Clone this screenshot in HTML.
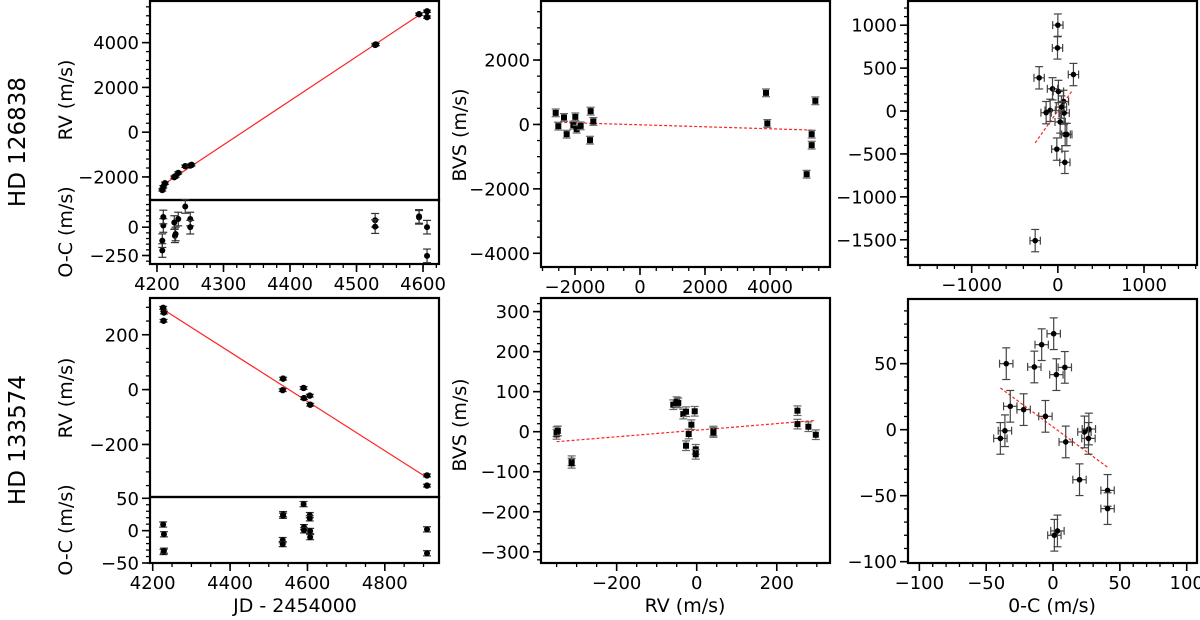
<!DOCTYPE html>
<html><head><meta charset="utf-8"><style>
html,body{margin:0;padding:0;background:#fff;}
svg{display:block;font-family:"DejaVu Sans","Liberation Sans",sans-serif;}
</style></head><body>
<svg id="fig" width="1200" height="620" viewBox="0 0 1200 620" xmlns="http://www.w3.org/2000/svg">
<text x="0" y="0" font-size="23" text-anchor="middle" transform="translate(25,142) rotate(-90)">HD 126838</text>
<text x="0" y="0" font-size="23" text-anchor="middle" transform="translate(25,440) rotate(-90)">HD 133574</text>
</svg>
<script>
// ---- HD 126838 RV vs JD ----
const jdA = [4208,4209.5,4212,4226,4228,4232,4242.5,4250,4252,4528,4529,4594,4606,4606];
const rvA = [-2580,-2440,-2280,-2010,-1960,-1820,-1520,-1490,-1460,3900,3920,5270,5400,5140];
const fitA_jd = [4212,4605.5];
const fitA_rv = [-2300,5450];
const resJdA = [4208,4208,4209.5,4209.5,4226,4227,4228,4232,4242.5,4250,4250,4528,4528,4594,4594,4606,4606];
const resA = [-206,-119,15,90,41,-76,-60,72,183,72,0,61,5,87,95,0,-253];
// ---- HD 133574 RV vs JD ----
const jdB = [4227,4229,4228,4537,4536,4590,4591,4606,4607,4909,4909];
const rvB = [298,281,251,40,-2,6,-31,-22,-55,-313,-350];
const fitB_jd = [4234,4909];
const fitB_rv = [286,-321];
const resJdB = [4227,4229,4228,4229,4537,4537,4536,4536,4590,4591,4591,4606,4606,4607,4607,4909,4909];
const resB = [9.5,-5.6,-33,-31,25.5,23,-14.6,-20.8,41,5.4,0.5,24,19,-0.5,-10,2,-35];
// ---- BVS vs RV ----
const bvsRvA = [-2594,-2513,-2338,-2256,-2051,-1990,-1949,-1826,-1518,-1538,-1436,3877,3918,5128,5282,5282,5395];
const bvsA = [360,-53,218,-302,-22,236,-146,-44,413,-488,93,982,31,-1545,-302,-643,734];
const bvsFitA_x = [-2640,5370];
const bvsFitA_y = [71,-177];
const bvsRvB = [-350,-350,-347,-312.5,-312.5,-58.5,-50,-46,-33.5,-26.7,-26.7,-20,-13.3,-5,-2.5,-2.5,41.7,41.7,251.7,251.7,279,297.5];
const bvsB = [0,-6.7,2,-72.5,-79,67.5,75,72,44,50,-35,-5.8,17.5,51,-44,-56.5,1.7,-2,52.5,19,12.5,-7.5];
const bvsFitB_x = [-350,295];
const bvsFitB_y = [-25,28];
// ---- BVS vs O-C ----
const ocA = [0,-4,-217,181,-62,7,65,-89,-136,73,42,27,85,104,-12,81,-263];
const ocBvsA = [1001,735,387,425,259,228,112,8,-19,-23,46,-127,-273,-273,-444,-598,-1510];
const ocFitA_x = [-263,174];
const ocFitA_y = [-371,248];
const ocB = [0.5,-8.5,-35,-14,2.5,8.8,-32,-22,-5.7,-36,-39.4,9.5,23.5,26.8,26.5,19.8,40.8,40.8,1,3.3];
const ocBvsB = [72.7,64.4,50,47.5,41.7,47.2,17.7,15.2,10.1,-0.8,-6.6,-9.3,-1.7,0.5,-6.6,-37.9,-46,-59.8,-80,-76.7];
const ocFitB_x = [-39.4,41.5];
const ocFitB_y = [31.6,-29];

const svg = document.getElementById('fig');
const NS = 'http://www.w3.org/2000/svg';
function mk(tag, attrs, parent){const e=document.createElementNS(NS,tag);for(const k in attrs)e.setAttribute(k,attrs[k]);(parent||svg).appendChild(e);return e;}
function scale(d0,d1,p0,p1){return v=>p0+(v-d0)/(d1-d0)*(p1-p0);}
function rng(a,b,s){const r=[];for(let v=a;v<=b+1e-9;v+=s)r.push(Math.round(v*1000)/1000);return r;}
function fmt(v){return v<0?'\u2212'+Math.abs(v):String(v);}

function axes(name,px0,px1,py0,py1,xd,yd,opt){
  const g=mk('g',{});
  
  
  const sx=scale(xd[0],xd[1],px0,px1), sy=scale(yd[0],yd[1],py1,py0);
  if(opt.yMaj){
    opt.yMinor.forEach(v=>{const y=sy(v);if(y<py0-0.5||y>py1+0.5)return;mk('line',{x1:px0-4,x2:px0,y1:y,y2:y,stroke:'#000','stroke-width':1.3},g);});
    opt.yMaj.forEach(v=>{const y=sy(v);mk('line',{x1:px0-8,x2:px0,y1:y,y2:y,stroke:'#000','stroke-width':1.6},g);
      if(!(opt.yNoLab||[]).includes(v)){const t=mk('text',{x:px0-11,y:y+6.5,'font-size':18,'text-anchor':'end'},g);t.textContent=fmt(v);}});
  }
  if(opt.xMaj){
    opt.xMinor.forEach(v=>{const x=sx(v);if(x<px0-0.5||x>px1+0.5)return;mk('line',{x1:x,x2:x,y1:py1,y2:py1+4,stroke:'#000','stroke-width':1.3},g);});
    opt.xMaj.forEach(v=>{const x=sx(v);mk('line',{x1:x,x2:x,y1:py1,y2:py1+8,stroke:'#000','stroke-width':1.6},g);
      const t=mk('text',{x:x,y:py1+26,'font-size':18,'text-anchor':'middle'},g);t.textContent=fmt(v);});
  }
  mk('rect',{x:px0,y:py0,width:px1-px0,height:py1-py0,fill:'none',stroke:'#000','stroke-width':2.2},g);
  return {sx,sy,g};
}
function fitLine(ax,xs,ys,dashed,name){
  const l=mk('line',{x1:ax.sx(xs[0]),y1:ax.sy(ys[0]),x2:ax.sx(xs[1]),y2:ax.sy(ys[1]),stroke:'#f22','stroke-width':1.2},ax.g);
  if(dashed)l.setAttribute('stroke-dasharray','3,2');
  
  
}
function pts(ax,xs,ys,o,name){
  xs.forEach((xv,i)=>{
    const x=ax.sx(xv),y=ax.sy(ys[i]);
    const g=mk('g',{},ax.g);
    
    
    const c=o.ecol||'#333';
    if(o.ye){const y1=ax.sy(ys[i]-o.ye),y2=ax.sy(ys[i]+o.ye);
      mk('line',{x1:x,x2:x,y1:y1,y2:y2,stroke:c,'stroke-width':1.2},g);
      mk('line',{x1:x-4,x2:x+4,y1:y1,y2:y1,stroke:c,'stroke-width':1.2},g);
      mk('line',{x1:x-4,x2:x+4,y1:y2,y2:y2,stroke:c,'stroke-width':1.2},g);}
    if(o.xe){const x1=ax.sx(xv-o.xe),x2=ax.sx(xv+o.xe);
      mk('line',{x1:x1,x2:x2,y1:y,y2:y,stroke:c,'stroke-width':1.2},g);
      mk('line',{x1:x1,x2:x1,y1:y-4,y2:y+4,stroke:c,'stroke-width':1.2},g);
      mk('line',{x1:x2,x2:x2,y1:y-4,y2:y+4,stroke:c,'stroke-width':1.2},g);}
    if(o.sq)mk('rect',{x:x-3,y:y-3,width:6,height:6,fill:'#000'},g);
    else mk('circle',{cx:x,cy:y,r:o.r||3,fill:'#000'},g);
  });
}
function label(txt,x,y,rot,name){
  const t=mk('text',{x:0,y:0,'font-size':19,'text-anchor':'middle',transform:`translate(${x},${y})`+(rot?' rotate(-90)':'')});
  t.textContent=txt;
  
  
}

// Column 1 top
const a1=axes('rv-panel-hd126838',150,439,1,200,[4189.5,4624],[-3030,5860],{yMaj:[-2000,0,2000,4000],yMinor:rng(-2800,5600,400)});
fitLine(a1,fitA_jd,fitA_rv,false,'rv-fit-line-hd126838');
pts(a1,jdA,rvA,{ye:50,r:3.2},'rv-point');
const a1r=axes('residual-panel-hd126838',150,439,200,264,[4189.5,4624],[-325,240],{yMaj:[-250,0],yMinor:rng(-300,200,50),xMaj:[4200,4300,4400,4500,4600],xMinor:rng(4200,4620,20)});
pts(a1r,resJdA,resA,{ye:60,r:3},'residual-point');
label('RV (m/s)',72,100,true,'y-axis-title-rv');
label('O-C (m/s)',72,232,true,'y-axis-title-oc');

// Column 1 bottom
const b1=axes('rv-panel-hd133574',150,439,298,497,[4193,4940],[-391.6,334],{yMaj:[-200,0,200],yMinor:rng(-350,300,50)});
fitLine(b1,fitB_jd,fitB_rv,false,'rv-fit-line-hd133574');
pts(b1,jdB,rvB,{ye:5,r:3.2},'rv-point');
const b1r=axes('residual-panel-hd133574',150,439,497,563,[4193,4940],[-50,52],{yMaj:[-50,0,50],yMinor:rng(-50,50,10),xMaj:[4200,4400,4600,4800],xMinor:rng(4200,4900,50)});
pts(b1r,resJdB,resB,{ye:4,r:3},'residual-point');
label('RV (m/s)',72,398,true,'y-axis-title-rv-2');
label('O-C (m/s)',72,530,true,'y-axis-title-oc-2');
label('JD - 2454000',295,612,false,'x-axis-title-jd');

// Column 2
const a2=axes('bvs-rv-panel-hd126838',541,830,1,267,[-3046,5846],[-4426,3833],{yMaj:[-4000,-2000,0,2000],yMinor:rng(-4000,3500,500),xMaj:[-2000,0,2000,4000],xMinor:rng(-3000,5500,500)});
fitLine(a2,bvsFitA_x,bvsFitA_y,true,'bvs-fit-line-hd126838');
pts(a2,bvsRvA,bvsA,{ye:120,sq:true,ecol:'#666'},'bvs-point');
label('BVS (m/s)',466,135,true,'y-axis-title-bvs');

const b2=axes('bvs-rv-panel-hd133574',541,830,298,563,[-389,333],[-328,334],{yMaj:[-300,-200,-100,0,100,200,300],yMinor:rng(-320,320,20),xMaj:[-200,0,200],xMinor:rng(-350,300,50)});
fitLine(b2,bvsFitB_x,bvsFitB_y,true,'bvs-fit-line-hd133574');
pts(b2,bvsRvB,bvsB,{ye:12,sq:true,ecol:'#666'},'bvs-point');
label('BVS (m/s)',466,425,true,'y-axis-title-bvs-2');
label('RV (m/s)',685,612,false,'x-axis-title-rv');

// Column 3
const a3=axes('bvs-oc-panel-hd126838',908,1197,1,265,[-1739,1615],[-1794,1282],{yMaj:[-1500,-1000,-500,0,500,1000],yMinor:rng(-1700,1200,100),xMaj:[-1000,0,1000],xMinor:rng(-1600,1600,200)});
fitLine(a3,ocFitA_x,ocFitA_y,true,'bvs-oc-fit-line-hd126838');
pts(a3,ocA,ocBvsA,{ye:130,xe:60,r:2.8,ecol:'#444'},'bvs-oc-point');

const b3=axes('bvs-oc-panel-hd133574',908,1197,299,563,[-108.5,107.7],[-101,99],{yMaj:[-100,-50,0,50],yMinor:rng(-100,90,10),xMaj:[-100,-50,0,50,100],xMinor:rng(-100,100,10)});
fitLine(b3,ocFitB_x,ocFitB_y,true,'bvs-oc-fit-line-hd133574');
pts(b3,ocB,ocBvsB,{ye:12,xe:5,r:2.8,ecol:'#444'},'bvs-oc-point');
label('0-C (m/s)',1052,612,false,'x-axis-title-oc');
</script>
</body></html>
